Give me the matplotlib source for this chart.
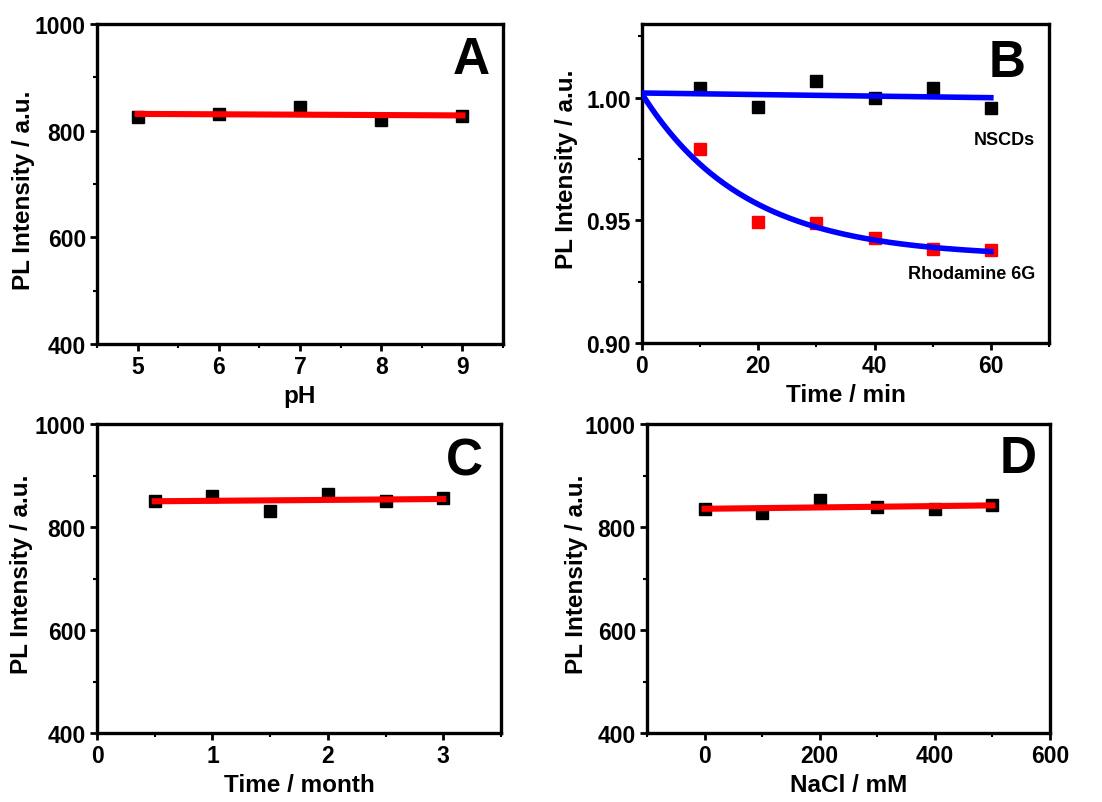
import numpy as np
from matplotlib import pyplot as plt
from matplotlib.ticker import MultipleLocator

plt.rcParams['font.family'] = ['Liberation Sans', 'DejaVu Sans']
plt.rcParams['font.weight'] = 'bold'
plt.rcParams['axes.labelweight'] = 'bold'

# A: pH
ph = [5, 6, 7, 8, 9]
ph_int = [826, 831, 845, 820, 828]
# B: irradiation time (normalized intensity)
t_min = [10, 20, 30, 40, 50, 60]
nscd_rel = [1.0038, 0.9963, 1.0069, 0.9997, 1.0041, 0.9957]
rhod_rel = [0.9789, 0.9493, 0.9487, 0.9428, 0.9384, 0.9381]
# C: storage time
months = [0.5, 1.0, 1.5, 2.0, 2.5, 3.0]
month_int = [851, 860, 831, 864, 851, 856]
# D: NaCl
nacl = [0, 100, 200, 300, 400, 500]
nacl_int = [835, 828, 853, 838, 835, 843]

W, H = 1102, 803
fig = plt.figure(figsize=(W / 100, H / 100), dpi=100)

def box(l, t, r, b):
    # pixel box -> figure fraction
    return [l / W, 1 - b / H, (r - l) / W, (b - t) / H]

axA = fig.add_axes(box(97, 25, 503, 345))
axB = fig.add_axes(box(642, 25, 1049, 344))
axC = fig.add_axes(box(97, 425, 501, 734))
axD = fig.add_axes(box(647, 425, 1050, 734))

LABEL = 17.5
TICK = 16.5

def style(ax):
    for s in ax.spines.values():
        s.set_linewidth(2.4)
    ax.tick_params(which='major', direction='out', length=5, width=2, labelsize=TICK, pad=3)
    ax.tick_params(which='minor', direction='out', length=3, width=1.5)
    for lab in ax.get_xticklabels() + ax.get_yticklabels():
        lab.set_fontweight('bold')

def linfit(ax, x, y):
    k, b = np.polyfit(x, y, 1)
    xx = np.array([x[0], x[-1]])
    ax.plot(xx, k * xx + b, color='#ff0000', lw=4.4, zorder=3)

def intensity_panel(ax, x, y, letter, xlabel, lx, ly):
    ax.plot(x, y, 's', color='black', ms=8.5, zorder=2)
    linfit(ax, x, y)
    ax.set_ylim(400, 1000)
    ax.yaxis.set_major_locator(MultipleLocator(200))
    ax.yaxis.set_minor_locator(MultipleLocator(100))
    ax.set_xlabel(xlabel, fontsize=LABEL, fontweight='bold', labelpad=4)
    ax.set_ylabel('PL Intensity / a.u.', fontsize=LABEL, fontweight='bold')
    ax.yaxis.set_label_coords(lx, ly)
    ax.text(*letter[1], letter[0], transform=ax.transAxes, fontsize=37,
            fontweight='bold', ha='right', va='center')

# A
intensity_panel(axA, ph, ph_int, ('A', (0.968, 0.89)), 'pH', -0.153, 0.484)
axA.set_xlim(4.5, 9.5)
axA.xaxis.set_major_locator(MultipleLocator(1))
axA.xaxis.set_minor_locator(MultipleLocator(0.5))

# C
intensity_panel(axC, months, month_int, ('C', (0.955, 0.881)), 'Time / month', -0.158, 0.518)
axC.set_xlim(0, 3.5)
axC.set_xticks([0, 1, 2, 3])
axC.xaxis.set_minor_locator(MultipleLocator(0.5))

# D
intensity_panel(axD, nacl, nacl_int, ('D', (0.966, 0.887)), 'NaCl / mM', -0.146, 0.518)
axD.set_xlim(-100, 600)
axD.set_xticks([0, 200, 400, 600])
axD.xaxis.set_minor_locator(MultipleLocator(100))

# B: both series start from 1.0 at t = 0 (normalized, not drawn)
t_all = np.array([0] + t_min, dtype=float)
nscd_all = np.array([1.0] + nscd_rel)
rhod_all = np.array([1.0] + rhod_rel)

axB.plot(t_min, nscd_rel, 's', color='black', ms=8.5, zorder=2)
axB.plot(t_min, rhod_rel, 's', color='#ff0000', ms=8.5, zorder=2)

tt = np.linspace(0, 60, 200)
k, b = np.polyfit(t_all, nscd_all, 1)
axB.plot(tt, k * tt + b, color='#0000ff', lw=4.0, zorder=3)

# exponential decay fit y0 + A*exp(-t/tau), tau by scan, y0 and A by least squares
best = None
for tau in np.linspace(2, 100, 2000):
    M = np.column_stack([np.ones_like(t_all), np.exp(-t_all / tau)])
    coef, res, *_ = np.linalg.lstsq(M, rhod_all, rcond=None)
    err = np.sum((M @ coef - rhod_all) ** 2)
    if best is None or err < best[0]:
        best = (err, tau, coef)
_, tau, (y0, A) = best
axB.plot(tt, y0 + A * np.exp(-tt / tau), color='#0000ff', lw=4.0, zorder=3)

axB.set_xlim(0, 70)
axB.set_ylim(0.90, 1.03)
axB.set_xticks([0, 20, 40, 60])
axB.xaxis.set_minor_locator(MultipleLocator(10))
axB.set_yticks([0.90, 0.95, 1.00])
axB.yaxis.set_minor_locator(MultipleLocator(0.025))
axB.yaxis.set_major_formatter(plt.FormatStrFormatter('%.2f'))
axB.set_xlabel('Time / min', fontsize=LABEL, fontweight='bold', labelpad=4)
axB.set_ylabel('PL Intensity / a.u.', fontsize=LABEL, fontweight='bold')
axB.yaxis.set_label_coords(-0.157, 0.549)
axB.text(67.6, 0.983, 'NSCDs', fontsize=13, fontweight='bold', ha='right', va='center')
axB.text(67.6, 0.9283, 'Rhodamine 6G', fontsize=13, fontweight='bold', ha='right', va='center')
axB.text(0.943, 0.88, 'B', transform=axB.transAxes, fontsize=37,
         fontweight='bold', ha='right', va='center')

for ax in (axA, axB, axC, axD):
    style(ax)

fig.savefig('out.png', dpi=100)
